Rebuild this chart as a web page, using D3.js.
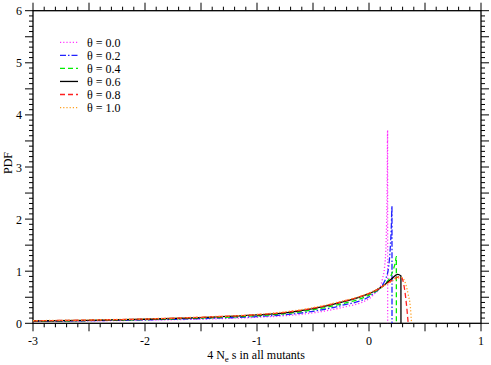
<!DOCTYPE html>
<html><head><meta charset="utf-8">
<script src="https://cdn.jsdelivr.net/npm/d3@7"></script>
<style>body{margin:0;background:#fff}svg{display:block}text{font-family:"Liberation Serif","Times New Roman",serif;fill:#000}</style>
</head><body><svg id="c" width="491" height="365"></svg>
<script>
const thetaLabels = ["θ = 0.0","θ = 0.2","θ = 0.4","θ = 0.6","θ = 0.8","θ = 1.0"];
const xTickLabels = [-3,-2,-1,0,1];
const yTickLabels = [0,1,2,3,4,5,6];
// x positions and PDF values per series
const s00x = [-3,-2.5,-2,-1.5,-1,-0.75,-0.5,-0.25,0,0.05,0.1,0.12,0.14,0.15,0.157,0.162,0.166,0.1665];
const s00y = [0.035,0.045,0.06,0.08,0.115,0.145,0.2,0.3,0.47,0.57,0.7,0.85,1.1,1.4,1.9,2.6,3.7,0];
const s02x = [-3,-2.5,-2,-1.5,-1,-0.75,-0.5,-0.25,0,0.05,0.1,0.13,0.15,0.175,0.19,0.2,0.205,0.2055];
const s02y = [0.038,0.05,0.066,0.09,0.13,0.165,0.23,0.34,0.51,0.59,0.68,0.77,0.86,1.08,1.45,1.9,2.25,0];
const s04x = [-3,-2.5,-2,-1.5,-1,-0.75,-0.5,-0.25,0,0.05,0.1,0.15,0.2,0.22,0.235,0.244,0.2445];
const s04y = [0.042,0.054,0.072,0.1,0.145,0.185,0.26,0.37,0.54,0.6,0.67,0.77,0.93,1.05,1.17,1.28,0];
const s06x = [-3,-2.5,-2,-1.5,-1,-0.75,-0.5,-0.25,0,0.05,0.1,0.15,0.2,0.255,0.285,0.2855];
const s06y = [0.045,0.058,0.078,0.11,0.16,0.2,0.28,0.4,0.57,0.62,0.68,0.76,0.85,0.94,0.91,0];
const s08x = [-3,-2.5,-2,-1.5,-1,-0.75,-0.5,-0.25,0,0.05,0.1,0.15,0.2,0.25,0.28,0.3,0.32,0.335,0.35];
const s08y = [0.048,0.062,0.082,0.115,0.165,0.21,0.29,0.41,0.575,0.62,0.68,0.75,0.82,0.88,0.9,0.84,0.62,0.35,0];
const s10x = [-3,-2.5,-2,-1.5,-1,-0.75,-0.5,-0.25,0,0.05,0.1,0.15,0.2,0.25,0.29,0.32,0.35,0.37,0.38];
const s10y = [0.05,0.065,0.085,0.12,0.17,0.22,0.3,0.42,0.58,0.63,0.68,0.74,0.8,0.86,0.88,0.8,0.55,0.3,0];

const seriesX = [s00x,s02x,s04x,s06x,s08x,s10x];
const seriesY = [s00y,s02y,s04y,s06y,s08y,s10y];
const colors = ["#ff33ff","#2222ff","#00ee00","#000000","#ff2020","#ffa020"];
const dashes = ["1.2,2","6,2,1.5,2","5,3",null,"5,3","1.2,2"];

const svg = d3.select("#c");
const L=33,R=481,T=10.7,B=323.3;
const x = d3.scaleLinear().domain([-3,1]).range([L,R]);
const y = d3.scaleLinear().domain([0,6]).range([B,T]);

svg.append("clipPath").attr("id","clip").append("rect").attr("x",L).attr("y",T).attr("width",R-L).attr("height",B-T);

const minorX = d3.range(-30,11).map(d=>d/10);
const minorY = d3.range(0,61).map(d=>d/10);
function isHalf(v){return Math.abs(v*2-Math.round(v*2))<1e-6;}

const g = svg.append("g").attr("stroke","#000").attr("stroke-width",1);
minorX.forEach(v=>{
  const len = isHalf(v)?8:4;
  g.append("line").attr("x1",x(v)).attr("x2",x(v)).attr("y1",B).attr("y2",B+len);
  g.append("line").attr("x1",x(v)).attr("x2",x(v)).attr("y1",T).attr("y2",T-len);
});
minorY.forEach(v=>{
  const len = isHalf(v)?8:4;
  g.append("line").attr("y1",y(v)).attr("y2",y(v)).attr("x1",L).attr("x2",L-len);
  g.append("line").attr("y1",y(v)).attr("y2",y(v)).attr("x1",R).attr("x2",R+len);
});
svg.append("rect").attr("x",L).attr("y",T).attr("width",R-L).attr("height",B-T)
  .attr("fill","none").attr("stroke","#000").attr("stroke-width",1.3);

xTickLabels.forEach(v=>{
  svg.append("text").attr("x",x(v)).attr("y",344.5).attr("text-anchor","middle").attr("font-size",12).text(v);
});
yTickLabels.forEach(v=>{
  svg.append("text").attr("x",22).attr("y",y(v)+4.5).attr("text-anchor","end").attr("font-size",12).text(v);
});
svg.append("text").attr("transform","translate(12,163) rotate(-90)").attr("text-anchor","middle").attr("font-size",12).text("PDF");
const xl = svg.append("text").attr("x",256).attr("y",359).attr("text-anchor","middle").attr("font-size",12);
xl.append("tspan").text("4 N");
xl.append("tspan").attr("font-size",9).attr("dy",3).text("e");
xl.append("tspan").attr("dy",-3).text(" s  in all mutants");

const line = d3.line().x(d=>x(d[0])).y(d=>y(d[1])).curve(d3.curveMonotoneX);
const plot = svg.append("g").attr("clip-path","url(#clip)");
seriesX.forEach((xs,i)=>{
  const pts = xs.map((v,j)=>[v,seriesY[i][j]]);
  const p = plot.append("path").attr("d",line(pts)).attr("fill","none")
    .attr("stroke",colors[i]).attr("stroke-width",1.3);
  if(dashes[i]) p.attr("stroke-dasharray",dashes[i]);
});

thetaLabels.forEach((t,i)=>{
  const yy = 42.3 + i*13.05;
  const l = svg.append("line").attr("x1",60).attr("x2",78).attr("y1",yy).attr("y2",yy)
    .attr("stroke",colors[i]).attr("stroke-width",1.3);
  if(dashes[i]) l.attr("stroke-dasharray",dashes[i]);
  svg.append("text").attr("x",87).attr("y",yy+4.2).attr("font-size",12).text(t);
});
</script></body></html>
